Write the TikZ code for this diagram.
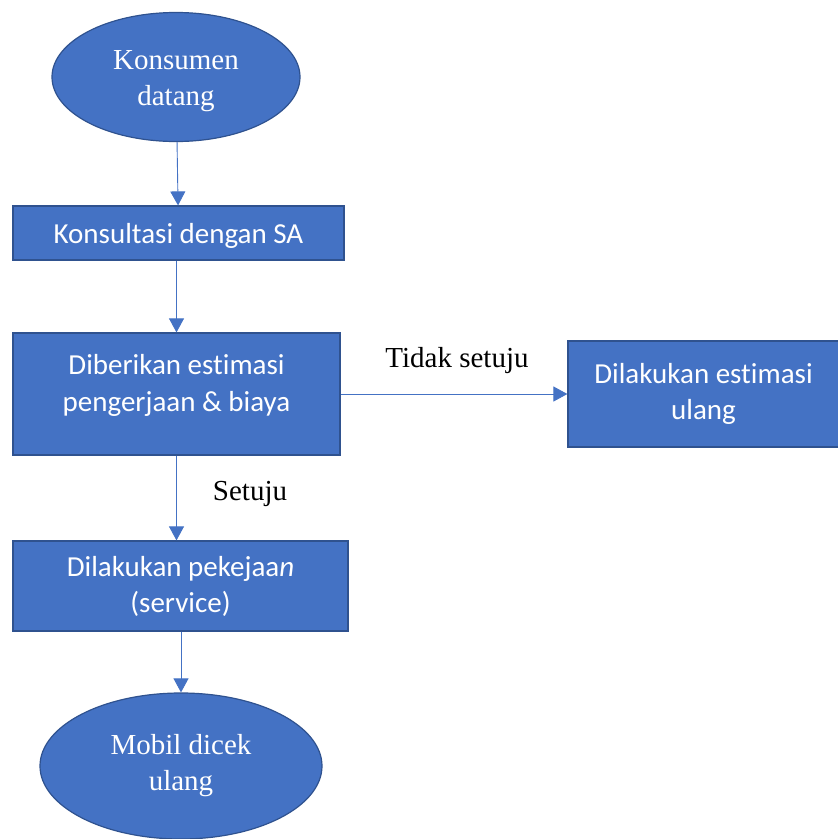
\documentclass[tikz,border=0pt]{standalone}
\usepackage{fontspec}
\setmainfont{Liberation Serif}
\newfontfamily\calibri[Ligatures=CommonOff]{Carlito}
\usetikzlibrary{shapes.geometric,arrows.meta}
\definecolor{boxblue}{HTML}{4472C4}
\definecolor{boxedge}{HTML}{2F528F}

\begin{document}
\begin{tikzpicture}[x=1pt,y=1pt,
        stepbox/.style={draw=boxedge, line width=1.2pt, fill=boxblue, text=white, align=center,
            font=\calibri\fontsize{29}{36}\selectfont, inner sep=0pt},
        endpoint/.style={ellipse, draw=boxedge, line width=1.2pt, fill=boxblue, text=white, align=center,
            font=\fontsize{29}{36}\selectfont, inner sep=0pt},
        flow/.style={draw=boxblue, line width=0.9pt, -{Triangle[length=14pt,width=15pt]}},
        answer/.style={font=\fontsize{29}{36}\selectfont, anchor=base}]
    \useasboundingbox (0,0) rectangle (838,-839);

    \node[endpoint, minimum width=248pt, minimum height=129pt] (start) at (176,-77) {};
    \node[text=white, align=center, font=\fontsize{29}{36}\selectfont, inner sep=0pt] (startText) at (176,-81)
        {Konsumen\\datang};
    \node[stepbox, minimum width=331pt, minimum height=54pt, text depth=0pt] (sa) at (178.5,-233) {Konsultasi dengan SA};
    \node[stepbox, minimum width=327pt, minimum height=122pt] (est) at (176.5,-394) {};
    \node[text=white, align=center, font=\calibri\fontsize{29}{37}\selectfont, inner sep=0pt] (estText) at (176.5,-385)
        {Diberikan estimasi\\pengerjaan \& biaya};
    \node[stepbox, minimum width=271pt, minimum height=106pt] (rej) at (703.5,-394) {Dilakukan estimasi\\ulang};
    \node[stepbox, minimum width=335pt, minimum height=90pt] (svc) at (180.5,-586) {Dilakukan pekejaa\textit{n}\\(service)};
    \node[endpoint, minimum width=282pt, minimum height=146pt] (end) at (181,-766) {Mobil dicek\\ulang};

    \draw[flow] (start) -- (sa);
    \draw[flow] (est.north |- sa.south) -- (est.north);
    \draw[flow] (est) -- (rej);
    \draw[flow] (est.south) -- (est.south |- svc.north);
    \draw[flow] (svc.south -| end.north) -- (end);

    \node[answer] (tidak) at (457,-367) {Tidak setuju};
    \node[answer] (setuju) at (250,-500) {Setuju};
\end{tikzpicture}
\end{document}
